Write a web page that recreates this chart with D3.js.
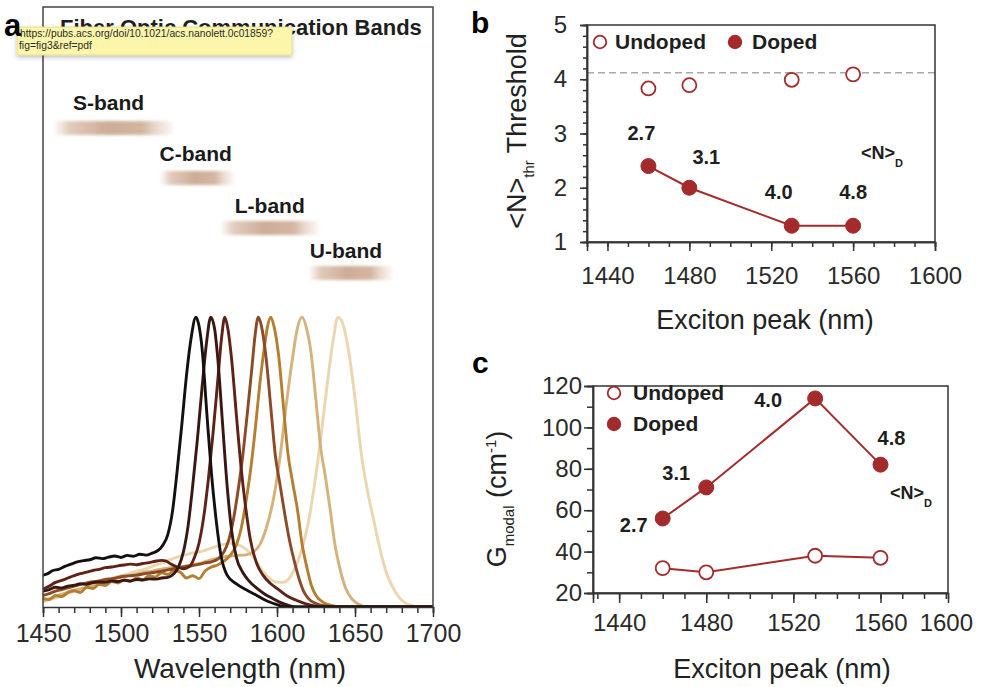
<!DOCTYPE html>
<html><head><meta charset="utf-8">
<script src="https://cdn.jsdelivr.net/npm/d3@7"></script>
<style>html,body{margin:0;padding:0;background:#fff;} svg{display:block;}</style>
</head><body>
<svg id="chart" width="981" height="687"></svg>
<script>
// ---------------- DATA ----------------
// Panel a: normalized emission spectra [wavelength nm, intensity]
const specNames = ["s1","s2","s3","s4","s5","s6","s7"];
const specColors = ["#141010","#3a1712","#5e2216","#8c4a27","#b47f31","#d5b27b","#ebd6b0"];
const spec1 = [[1450,.11],[1453,.115],[1456,.125],[1460,.13],[1464,.14],[1468,.148],[1472,.156],[1476,.16],[1480,.163],[1484,.17],[1488,.167],[1492,.172],[1496,.176],[1500,.171],[1504,.178],[1508,.175],[1512,.182],[1516,.179],[1520,.186],[1524,.196],[1527,.215],[1530,.25],[1533,.33],[1536,.47],[1539,.63],[1542,.8],[1545,.93],[1548,1],[1550,.97],[1552,.89],[1555,.67],[1558,.46],[1561,.3],[1564,.18],[1568,.11],[1574,.08],[1580,.06],[1587,.04],[1594,.02],[1600,.008],[1606,0],[1700,0]];
const spec2 = [[1450,.055],[1454,.06],[1458,.068],[1462,.066],[1466,.072],[1470,.075],[1474,.08],[1478,.078],[1482,.084],[1486,.086],[1490,.085],[1494,.09],[1498,.088],[1502,.092],[1506,.09],[1510,.095],[1514,.093],[1518,.097],[1522,.096],[1526,.1],[1530,.102],[1534,.115],[1537,.14],[1540,.19],[1543,.28],[1546,.42],[1549,.58],[1552,.76],[1555,.92],[1557.5,1],[1560,.96],[1562,.86],[1565,.64],[1568,.42],[1571,.26],[1574,.17],[1578,.12],[1582,.09],[1587,.065],[1592,.045],[1597,.03],[1602,.016],[1607,.006],[1612,0],[1700,0]];
const spec3 = [[1450,.062],[1454,.072],[1458,.085],[1462,.092],[1466,.1],[1470,.108],[1474,.115],[1478,.12],[1482,.126],[1486,.13],[1490,.136],[1494,.138],[1498,.142],[1502,.145],[1506,.148],[1510,.146],[1514,.15],[1518,.153],[1522,.158],[1526,.161],[1529,.158],[1532,.148],[1536,.138],[1540,.132],[1544,.14],[1547,.17],[1550,.22],[1553,.31],[1556,.44],[1559,.6],[1562,.78],[1564.5,.93],[1566.5,1],[1568.5,.96],[1571,.85],[1574,.66],[1577,.48],[1580,.34],[1583,.23],[1587,.15],[1591,.11],[1596,.08],[1601,.06],[1606,.04],[1612,.024],[1618,.012],[1624,.004],[1630,0],[1700,0]];
const spec4 = [[1450,.04],[1454,.046],[1458,.055],[1462,.06],[1466,.066],[1470,.072],[1474,.078],[1478,.083],[1482,.087],[1486,.09],[1490,.095],[1494,.098],[1498,.102],[1502,.106],[1506,.108],[1510,.11],[1514,.114],[1518,.117],[1522,.12],[1526,.124],[1530,.128],[1534,.132],[1538,.136],[1542,.14],[1546,.143],[1550,.147],[1554,.152],[1558,.156],[1562,.165],[1566,.19],[1569,.23],[1572,.3],[1575,.4],[1578,.52],[1581,.67],[1584,.83],[1586,.94],[1588,1],[1590,.97],[1593,.86],[1596,.69],[1599,.52],[1602,.42],[1605,.32],[1608,.23],[1611,.16],[1614,.1],[1617,.055],[1620,.03],[1625,.012],[1632,.003],[1638,0],[1700,0]];
const spec5 = [[1450,.03],[1454,.026],[1458,.04],[1462,.036],[1466,.05],[1470,.056],[1474,.05],[1478,.068],[1482,.064],[1486,.078],[1490,.074],[1494,.088],[1498,.083],[1502,.094],[1506,.088],[1510,.1],[1514,.094],[1518,.108],[1522,.104],[1526,.118],[1530,.112],[1534,.126],[1538,.12],[1542,.1],[1546,.108],[1550,.098],[1554,.125],[1558,.138],[1562,.145],[1566,.158],[1570,.178],[1574,.215],[1577,.27],[1580,.36],[1583,.47],[1586,.61],[1589,.77],[1592,.9],[1594,.97],[1596,1],[1598,.97],[1601,.87],[1604,.7],[1607,.53],[1610,.43],[1613,.34],[1616,.22],[1619,.14],[1622,.075],[1625,.04],[1630,.015],[1636,.004],[1642,0],[1700,0]];
const spec6 = [[1450,.02],[1455,.03],[1460,.04],[1465,.05],[1470,.058],[1475,.064],[1480,.07],[1485,.078],[1490,.088],[1495,.094],[1500,.103],[1505,.108],[1510,.114],[1515,.12],[1520,.124],[1525,.13],[1530,.134],[1535,.138],[1540,.14],[1545,.145],[1550,.15],[1555,.158],[1560,.166],[1565,.172],[1570,.176],[1575,.178],[1580,.18],[1585,.19],[1589,.215],[1593,.27],[1598,.38],[1602,.52],[1606,.7],[1610,.86],[1613,.96],[1616,1],[1619,.96],[1622,.87],[1625,.71],[1628,.55],[1631,.45],[1634,.34],[1637,.22],[1640,.14],[1644,.065],[1648,.028],[1652,.01],[1658,0],[1700,0]];
const spec7 = [[1450,.02],[1455,.026],[1460,.035],[1465,.045],[1470,.054],[1475,.06],[1480,.07],[1485,.08],[1490,.09],[1495,.1],[1500,.108],[1505,.115],[1510,.124],[1515,.13],[1520,.14],[1525,.15],[1530,.16],[1535,.17],[1540,.178],[1545,.185],[1550,.19],[1555,.198],[1560,.207],[1565,.215],[1570,.22],[1575,.215],[1580,.2],[1585,.17],[1590,.13],[1595,.1],[1600,.086],[1604,.085],[1608,.1],[1612,.14],[1616,.2],[1620,.29],[1624,.42],[1628,.58],[1632,.76],[1636,.92],[1639,1],[1642,.98],[1646,.88],[1650,.72],[1654,.53],[1658,.4],[1662,.3],[1666,.2],[1670,.12],[1674,.07],[1678,.035],[1682,.015],[1687,.004],[1692,0],[1700,0]];
const spectra = [spec1, spec2, spec3, spec4, spec5, spec6, spec7];

// Panel a: communication bands (nm)
const bandNames = ["S-band","C-band","L-band","U-band"];
const bandStart = [1457.7, 1526, 1564.6, 1621];
const bandEnd   = [1533.3, 1572, 1626.5, 1673.5];
const aMajorTicks = [1450,1500,1550,1600,1650,1700];

// Panel b: threshold <N>thr vs exciton peak
const peaks = [1460, 1480, 1530, 1560];
const thrUndoped = [3.83, 3.89, 3.99, 4.09];
const thrDoped   = [2.4, 2.0, 1.3, 1.3];
const thrRef = 4.12;
const ndLabels = ["2.7","3.1","4.0","4.8"];
const bMajorX = [1440,1480,1520,1560,1600];
const bMajorY = [1,2,3,4,5];

// Panel c: modal gain
const gainUndoped = [32, 30, 38, 37];
const gainDoped   = [56, 71, 114, 82];
const cMajorX = [1440,1480,1520,1560];
const cMajorY = [20,40,60,80,100,120];

// ---------------- DRAW ----------------
const FONT = "'Liberation Sans', Arial, Helvetica, sans-serif";
const RED = "#a32b2b";
const AX = "#333";
const svg = d3.select("#chart").style("font-family", FONT);
const defs = svg.append("defs");

function styleAxis(g, fs) {
  g.selectAll(".domain").attr("stroke", AX).attr("stroke-width", 1.5);
  g.selectAll(".tick line").attr("stroke", AX).attr("stroke-width", 1.5);
  g.selectAll(".tick text").attr("fill", "#2a2a2a").style("font-size", fs + "px").style("font-family", FONT);
}

// ===== Panel a =====
const xA = d3.scaleLinear().domain([1450, 1700]).range([43, 433]);
const yA = d3.scaleLinear().domain([0, 2.07]).range([607, 7]);

defs.append("clipPath").attr("id", "clipA").append("rect")
  .attr("x", 43).attr("y", 7).attr("width", 390).attr("height", 600);

const grad = defs.append("linearGradient").attr("id", "bandGrad");
[[0, "#ecdcd0", 0.3], [0.12, "#dcc2b0", 0.85], [0.45, "#cdac96", 1], [0.75, "#d3b6a2", 1], [1, "#eee0d6", 0.3]]
  .forEach(s => grad.append("stop").attr("offset", s[0]).attr("stop-color", s[1]).attr("stop-opacity", s[2]));
defs.append("filter").attr("id", "soft").attr("x", "-10%").attr("y", "-50%").attr("width", "120%").attr("height", "200%")
  .append("feGaussianBlur").attr("stdDeviation", "2 1.6");

const gA = svg.append("g");

// curves
const line = d3.line().x(d => xA(d[0])).y(d => yA(d[1])).curve(d3.curveMonotoneX);
const gCurves = gA.append("g").attr("clip-path", "url(#clipA)");
for (let i = spectra.length - 1; i >= 0; i--) {
  gCurves.append("path").datum(spectra[i]).attr("d", line)
    .attr("fill", "none").attr("stroke", specColors[i]).attr("stroke-width", 2.9)
    .attr("stroke-linejoin", "round").attr("stroke-linecap", "round");
}

// frame
gA.append("path").attr("d", `M${xA(1450)},${yA(0)}V7H${xA(1700)}V${yA(0)}`)
  .attr("fill", "none").attr("stroke", "#444").attr("stroke-width", 1.5);

// axis
const axA1 = gA.append("g").attr("transform", `translate(0,${yA(0)})`)
  .call(d3.axisBottom(xA).tickValues(d3.range(1450, 1701, 10)).tickSize(6).tickFormat(""));
styleAxis(axA1, 25);
const axA2 = gA.append("g").attr("transform", `translate(0,${yA(0)})`)
  .call(d3.axisBottom(xA).tickValues(aMajorTicks).tickSize(10).tickPadding(7).tickFormat(d3.format("d")));
styleAxis(axA2, 25);
axA2.select(".domain").remove();

gA.append("text").attr("x", 240).attr("y", 678).attr("text-anchor", "middle")
  .style("font-size", "28px").attr("fill", "#222").text("Wavelength (nm)");

// bands
const bandBarY = [121, 171, 221, 266];
const bandLabY = [110, 161, 213, 258];
const bandLabDx = [18, -2, 13, 0];
bandNames.forEach((n, i) => {
  gA.append("rect").attr("x", xA(bandStart[i])).attr("y", bandBarY[i])
    .attr("width", xA(bandEnd[i]) - xA(bandStart[i])).attr("height", 14)
    .attr("fill", "url(#bandGrad)").attr("filter", "url(#soft)");
  gA.append("text").attr("x", xA(bandStart[i]) + bandLabDx[i]).attr("y", bandLabY[i])
    .style("font-size", "21px").style("font-weight", "bold").attr("fill", "#1a1a1a").text(n);
});

// title, tooltip, panel letter
gA.append("text").attr("x", 60).attr("y", 35).style("font-size", "22px").style("font-weight", "bold")
  .attr("fill", "#1e1e1e").text("Fiber Optic Communication Bands");
defs.append("filter").attr("id", "shadow").attr("x", "-5%").attr("y", "-30%").attr("width", "110%").attr("height", "170%")
  .append("feDropShadow").attr("dx", 0).attr("dy", 2).attr("stdDeviation", 2).attr("flood-color", "#000").attr("flood-opacity", 0.25);
gA.append("rect").attr("x", 17).attr("y", 27).attr("width", 275).attr("height", 28)
  .attr("fill", "#fbf6a9").attr("stroke", "#e2da92").attr("stroke-width", 0.8).attr("filter", "url(#shadow)");
gA.append("text").attr("x", 20).attr("y", 37).style("font-size", "10.5px").attr("fill", "#2b2b2b")
  .attr("textLength", 253).attr("lengthAdjust", "spacingAndGlyphs")
  .text("https://pubs.acs.org/doi/10.1021/acs.nanolett.0c01859?");
gA.append("text").attr("x", 19).attr("y", 49).style("font-size", "10.5px").attr("fill", "#2b2b2b")
  .attr("textLength", 73).attr("lengthAdjust", "spacingAndGlyphs")
  .text("fig=fig3&ref=pdf");
gA.append("text").attr("x", 4).attr("y", 36).style("font-size", "31px").style("font-weight", "bold")
  .attr("fill", "#000").text("a");

// ===== helpers for b, c =====
function legend(g, items) {
  items.forEach(it => {
    g.append("circle").attr("cx", it.cx).attr("cy", it.cy).attr("r", 6.3)
      .attr("fill", it.filled ? RED : "#fff").attr("stroke", RED).attr("stroke-width", 1.8);
    g.append("text").attr("x", it.tx).attr("y", it.ty).style("font-size", "21px").style("font-weight", "bold")
      .attr("fill", "#1e1e1e").text(it.text);
  });
}
function ndSub(g, x, y) {
  const t = g.append("text").attr("x", x).attr("y", y).style("font-size", "18px").style("font-weight", "bold").attr("fill", "#1e1e1e");
  t.append("tspan").text("<N>");
  t.append("tspan").attr("dy", 8).style("font-size", "11px").text("D");
}

// ===== Panel b =====
const xB = d3.scaleLinear().domain([1430, 1600]).range([587, 935]);
const yB = d3.scaleLinear().domain([1, 5]).range([242, 25]);
const gB = svg.append("g");

gB.append("line").attr("x1", xB(1430)).attr("x2", xB(1600)).attr("y1", yB(thrRef)).attr("y2", yB(thrRef))
  .attr("stroke", "#a8a8a8").attr("stroke-width", 1.5).attr("stroke-dasharray", "7,4");

let ax;
ax = gB.append("g").attr("transform", `translate(0,${yB(1)})`)
  .call(d3.axisBottom(xB).tickValues(d3.range(1430, 1601, 10)).tickSize(5).tickFormat("")); styleAxis(ax, 24);
ax = gB.append("g").attr("transform", `translate(0,${yB(1)})`)
  .call(d3.axisBottom(xB).tickValues(bMajorX).tickSize(9).tickPadding(16).tickFormat(d3.format("d"))); styleAxis(ax, 24);
ax = gB.append("g").attr("transform", `translate(${xB(1430)},0)`)
  .call(d3.axisLeft(yB).tickValues(d3.range(1, 5.01, 0.2)).tickSize(4).tickFormat("")); styleAxis(ax, 24);
ax = gB.append("g").attr("transform", `translate(${xB(1430)},0)`)
  .call(d3.axisLeft(yB).tickValues(bMajorY).tickSize(7).tickPadding(13).tickFormat(d3.format("d"))); styleAxis(ax, 24);
gB.append("rect").attr("x", xB(1430)).attr("y", yB(5)).attr("width", xB(1600) - xB(1430)).attr("height", yB(1) - yB(5))
  .attr("fill", "none").attr("stroke", AX).attr("stroke-width", 1.5);

const lineB = d3.line().x((d, i) => xB(peaks[i])).y(d => yB(d));
gB.append("path").datum(thrDoped).attr("d", lineB).attr("fill", "none").attr("stroke", RED).attr("stroke-width", 2);
gB.selectAll("circle.bu").data(thrUndoped).join("circle").attr("class", "bu")
  .attr("cx", (d, i) => xB(peaks[i])).attr("cy", d => yB(d)).attr("r", 7)
  .attr("fill", "#fff").attr("stroke", RED).attr("stroke-width", 1.8);
gB.selectAll("circle.bd").data(thrDoped).join("circle").attr("class", "bd")
  .attr("cx", (d, i) => xB(peaks[i])).attr("cy", d => yB(d)).attr("r", 7.5)
  .attr("fill", RED).attr("stroke", RED).attr("stroke-width", 1);

const bLabOff = [[-7, -26], [17, -24], [-13, -27], [0, -27]];
ndLabels.forEach((t, i) => {
  gB.append("text").attr("x", xB(peaks[i]) + bLabOff[i][0]).attr("y", yB(thrDoped[i]) + bLabOff[i][1])
    .attr("text-anchor", "middle").style("font-size", "20px").style("font-weight", "bold").attr("fill", "#1e1e1e").text(t);
});
ndSub(gB, 861, 159);

legend(gB, [
  {cx: 600, cy: 42, filled: false, tx: 615, ty: 49, text: "Undoped"},
  {cx: 735, cy: 42, filled: true, tx: 752, ty: 49, text: "Doped"}
]);

gB.append("text").attr("x", 765).attr("y", 329).attr("text-anchor", "middle")
  .style("font-size", "27px").attr("fill", "#222").text("Exciton peak (nm)");
const ylb = gB.append("text").attr("transform", "translate(526,131) rotate(-90)").attr("text-anchor", "middle")
  .style("font-size", "27px").attr("fill", "#222");
ylb.append("tspan").text("<N>");
ylb.append("tspan").attr("dy", 8).style("font-size", "15px").text("thr");
ylb.append("tspan").attr("dy", -8).text(" Threshold");
gB.append("text").attr("x", 471).attr("y", 33).style("font-size", "30px").style("font-weight", "bold").attr("fill", "#000").text("b");

// ===== Panel c =====
const xC = d3.scaleLinear().domain([1428, 1591]).range([593, 948]);
const yC = d3.scaleLinear().domain([20, 120]).range([593, 386]);
const gC = svg.append("g");

ax = gC.append("g").attr("transform", `translate(0,${yC(20)})`)
  .call(d3.axisBottom(xC).tickValues(d3.range(1430, 1591, 10)).tickSize(6).tickPadding(15)
    .tickFormat(d => d === 1590 ? "1600" : "")); styleAxis(ax, 24);
ax = gC.append("g").attr("transform", `translate(0,${yC(20)})`)
  .call(d3.axisBottom(xC).tickValues(cMajorX).tickSize(10).tickPadding(11).tickFormat(d3.format("d"))); styleAxis(ax, 24);
ax = gC.append("g").attr("transform", `translate(${xC(1428)},0)`)
  .call(d3.axisLeft(yC).tickValues(d3.range(20, 121, 10)).tickSize(6).tickFormat("")); styleAxis(ax, 24);
ax = gC.append("g").attr("transform", `translate(${xC(1428)},0)`)
  .call(d3.axisLeft(yC).tickValues(cMajorY).tickSize(9).tickPadding(2).tickFormat(d3.format("d"))); styleAxis(ax, 24);
gC.append("rect").attr("x", xC(1428)).attr("y", yC(120)).attr("width", xC(1591) - xC(1428)).attr("height", yC(20) - yC(120))
  .attr("fill", "none").attr("stroke", AX).attr("stroke-width", 1.5);

const lineC = d3.line().x((d, i) => xC(peaks[i])).y(d => yC(d));
gC.append("path").datum(gainDoped).attr("d", lineC).attr("fill", "none").attr("stroke", RED).attr("stroke-width", 2);
gC.append("path").datum(gainUndoped).attr("d", lineC).attr("fill", "none").attr("stroke", RED).attr("stroke-width", 2);
gC.selectAll("circle.cu").data(gainUndoped).join("circle").attr("class", "cu")
  .attr("cx", (d, i) => xC(peaks[i])).attr("cy", d => yC(d)).attr("r", 7)
  .attr("fill", "#fff").attr("stroke", RED).attr("stroke-width", 1.8);
gC.selectAll("circle.cd").data(gainDoped).join("circle").attr("class", "cd")
  .attr("cx", (d, i) => xC(peaks[i])).attr("cy", d => yC(d)).attr("r", 7.5)
  .attr("fill", RED).attr("stroke", RED).attr("stroke-width", 1);

const cLabOff = [[-29, 14], [-30, -7], [-47, 9], [11, -20]];
ndLabels.forEach((t, i) => {
  gC.append("text").attr("x", xC(peaks[i]) + cLabOff[i][0]).attr("y", yC(gainDoped[i]) + cLabOff[i][1])
    .attr("text-anchor", "middle").style("font-size", "20px").style("font-weight", "bold").attr("fill", "#1e1e1e").text(t);
});
ndSub(gC, 890, 499);

legend(gC, [
  {cx: 614, cy: 393, filled: false, tx: 633, ty: 400, text: "Undoped"},
  {cx: 614, cy: 424, filled: true, tx: 633, ty: 431, text: "Doped"}
]);

gC.append("text").attr("x", 782).attr("y", 678).attr("text-anchor", "middle")
  .style("font-size", "27px").attr("fill", "#222").text("Exciton peak (nm)");
const ylc = gC.append("text").attr("transform", "translate(506,499) rotate(-90)").attr("text-anchor", "middle")
  .style("font-size", "27px").attr("fill", "#222");
ylc.append("tspan").text("G");
ylc.append("tspan").attr("dy", 8).style("font-size", "15px").text("modal");
ylc.append("tspan").attr("dy", -8).text(" (cm");
ylc.append("tspan").attr("dy", -10).style("font-size", "15px").text("-1");
ylc.append("tspan").attr("dy", 10).text(")");
gC.append("text").attr("x", 472).attr("y", 373).style("font-size", "30px").style("font-weight", "bold").attr("fill", "#000").text("c");
</script>
</body></html>
